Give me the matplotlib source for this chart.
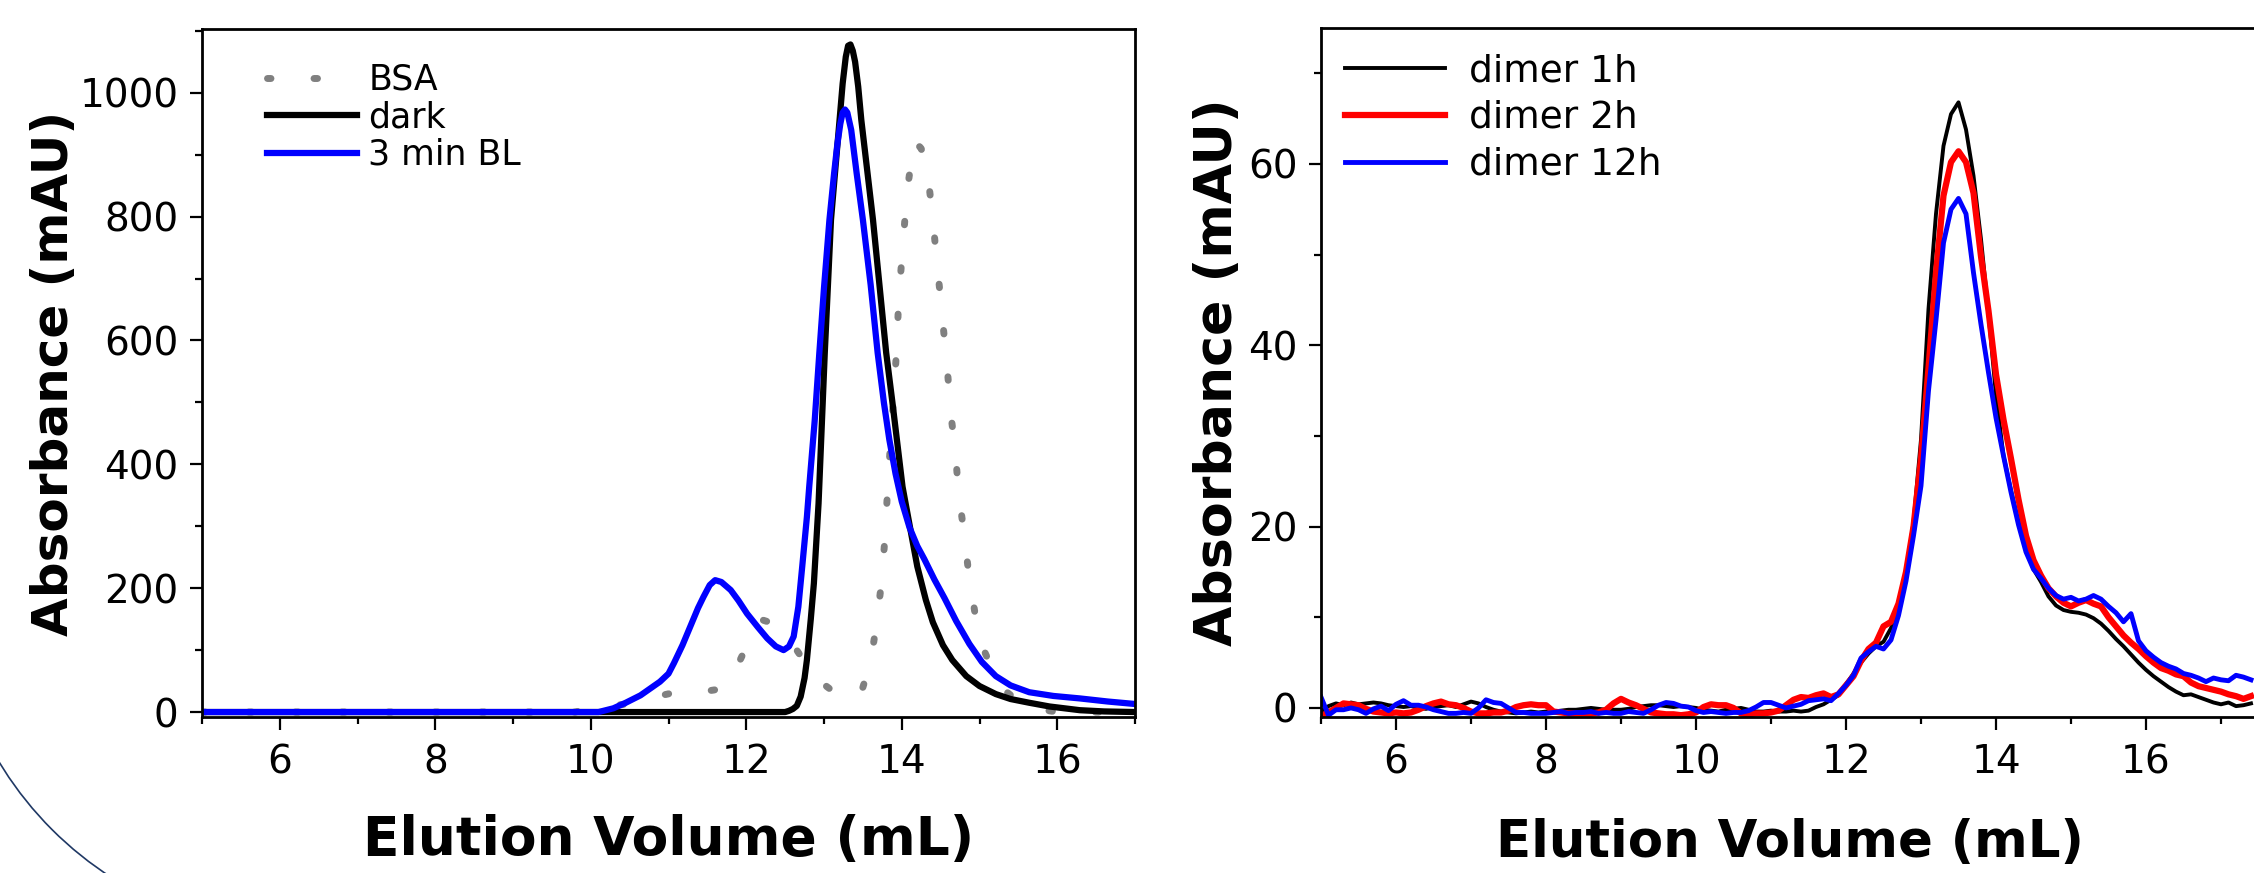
import numpy as np
import matplotlib
matplotlib.use("Agg")
import matplotlib.pyplot as plt
from matplotlib.patches import Arc
from matplotlib.ticker import MultipleLocator

plt.rcParams['font.family'] = ['DejaVu Sans']

### left panel: SEC of BSA standard, dark and 3 min blue light
vol_bsa = [5.0, 9.8, 10.12, 10.4, 10.68, 10.95, 11.24, 11.5, 11.71, 11.85, 11.97, 12.1, 12.2, 12.3,
           12.45, 12.59, 12.73, 12.87, 13.1, 13.38, 13.5, 13.6, 13.68, 13.74, 13.78, 13.81, 13.84,
           13.91, 13.94, 13.96, 14.0, 14.04, 14.09, 14.16, 14.25, 14.33, 14.39, 14.44, 14.49, 14.54,
           14.59, 14.63, 14.69, 14.73, 14.8, 14.86, 14.94, 15.06, 15.27, 15.6, 16.0, 17.0]
abs_bsa = [0, 0, 9, 12, 17, 28, 36, 34, 38, 65, 97, 130, 149, 145,
           128, 111, 85, 57, 35, 19, 40, 81, 146, 210, 275, 341, 405,
           535, 600, 666, 730, 795, 860, 923, 910, 873, 808, 743, 679, 614,
           548, 483, 420, 355, 290, 225, 161, 99, 40, 8, 0, 0]

vol_dark = [5.0, 12.5, 12.55, 12.6, 12.65, 12.7, 12.75, 12.78, 12.83, 12.87, 12.93, 13.01, 13.09,
            13.2, 13.24, 13.28, 13.31, 13.34, 13.37, 13.4, 13.44, 13.48, 13.63, 13.8, 13.88, 14.01,
            14.12, 14.2, 14.31, 14.4, 14.53, 14.65, 14.83, 15.0, 15.21, 15.4, 15.64, 15.9, 16.29,
            16.6, 17.0]
abs_dark = [0, 0, 2, 5, 10, 25, 55, 84, 150, 208, 337, 580, 795,
            956, 1015, 1058, 1076, 1078, 1068, 1050, 1010, 956, 795, 580, 500, 364,
            289, 235, 181, 145, 108, 84, 58, 42, 29, 21, 15, 9, 3,
            1, 0]

vol_bl = [5.0, 10.1, 10.29, 10.45, 10.64, 10.89, 11.0, 11.07, 11.18, 11.28, 11.38, 11.45, 11.53,
          11.6, 11.68, 11.8, 11.9, 12.01, 12.15, 12.27, 12.38, 12.48, 12.55, 12.61, 12.67, 12.72,
          12.78, 12.81, 12.88, 12.94, 13.0, 13.07, 13.13, 13.17, 13.21, 13.24, 13.27, 13.3, 13.35,
          13.42, 13.5, 13.6, 13.69, 13.77, 13.84, 13.92, 14.0, 14.1, 14.2, 14.29, 14.42, 14.55,
          14.7, 14.87, 15.03, 15.21, 15.4, 15.64, 15.95, 16.29, 16.65, 17.0]
abs_bl = [0, 0, 6, 15, 27, 49, 62, 79, 108, 138, 168, 186, 205,
          213, 210, 197, 180, 159, 137, 119, 106, 100, 106, 122, 170, 235,
          315, 364, 470, 580, 685, 795, 870, 915, 950, 968, 973, 968, 940,
          870, 795, 690, 580, 500, 440, 385, 340, 298, 268, 247, 214, 184,
          147, 110, 81, 58, 43, 32, 26, 22, 17, 13]

### right panel: dimer after 1h, 2h, 12h (5.0 to 17.4 mL, every 0.1 mL)
abs_1h = [-0.4, 0.2, 0.5, 0.3, 0.6, 0.4, 0.5, 0.6, 0.5, 0.3,
          0.2, 0.1, 0.2, 0.0, -0.1, 0.1, 0.2, 0.3, 0.1, 0.4,
          0.7, 0.5, 0.1, -0.2, -0.4, -0.5, -0.6, -0.5, -0.4, -0.5,
          -0.4, -0.4, -0.3, -0.2, -0.2, -0.1, 0.0, -0.1, -0.2, -0.2,
          -0.2, -0.1, 0.1, 0.2, 0.3, 0.3, 0.2, 0.1, 0.2, 0.1,
          0.0, -0.2, -0.3, -0.4, -0.2, -0.1, 0.0, -0.2, -0.4, -0.4,
          -0.3, -0.4, -0.4, -0.3, -0.4, -0.3,
          0.1, 0.4, 0.9, 1.4,
          2.6, 3.8, 5.0, 6.0, 6.8, 7.3, 8.8, 11.0, 14.8, 20.5,
          29.6, 44.0, 54.5, 62.0, 65.5, 66.8, 63.8, 58.7, 51.7, 43.5,
          34.5, 27.8, 24.0, 20.5, 17.5, 15.3, 13.9, 12.3, 11.3, 10.8,
          10.6, 10.5, 10.3, 9.9, 9.3, 8.5, 7.6, 6.8, 5.9, 5.0,
          4.2, 3.5, 2.9, 2.3, 1.8, 1.4, 1.5, 1.2, 0.9, 0.6,
          0.4, 0.6, 0.2, 0.3, 0.5]
abs_2h = [-0.9, -0.5, 0.0, 0.5, 0.4, 0.3, -0.1, -0.4, -0.5, -0.6,
          -0.5, -0.6, -0.5, -0.2, 0.2, 0.5, 0.7, 0.4, 0.3, 0.0,
          -0.4, -0.6, -0.6, -0.5, -0.5, -0.3, 0.1, 0.3, 0.4, 0.3,
          0.3, -0.4, -0.5, -0.6, -0.6, -0.6, -0.6, -0.5, -0.2, 0.5,
          1.0, 0.6, 0.3, -0.1, -0.5, -0.6, -0.7, -0.7, -0.8, -0.7,
          -0.5, 0.1, 0.4, 0.3, 0.3, 0.0, -0.6, -0.7, -0.6, -0.6,
          -0.5, -0.3, 0.3, 0.9, 1.2, 1.1,
          1.4, 1.6, 1.2, 1.5,
          2.5, 3.5, 5.2, 6.5, 7.2, 9.0, 9.5, 11.5, 15.0, 20.0,
          27.5, 37.5, 48.0, 56.5, 60.2, 61.4, 60.2, 56.8, 49.8, 43.8,
          36.8, 31.8, 27.5, 23.0, 19.0, 16.3, 14.6, 13.2, 12.3, 11.6,
          11.2, 11.6, 11.9, 11.5, 11.2, 10.0, 9.0, 8.0, 7.2, 6.5,
          5.7, 5.0, 4.4, 4.1, 3.7, 3.5, 2.8, 2.4, 2.2, 2.0,
          1.8, 1.5, 1.3, 1.0, 1.3]
abs_12h = [1.2, -0.8, -0.2, -0.2, 0.0, -0.2, -0.6, -0.1, 0.2, -0.3,
           0.4, 0.8, 0.3, 0.3, 0.1, -0.2, -0.4, -0.6, -0.6, -0.5,
           -0.6, 0.0, 0.9, 0.6, 0.5, 0.0, -0.5, -0.5, -0.6, -0.6,
           -0.6, -0.5, -0.4, -0.6, -0.5, -0.5, -0.4, -0.6, -0.5, -0.6,
           -0.6, -0.4, -0.5, -0.6, -0.2, 0.3, 0.6, 0.5, 0.2, 0.1,
           -0.3, -0.5, -0.4, -0.5, -0.6, -0.5, -0.5, -0.3, 0.1, 0.6,
           0.6, 0.3, 0.0, 0.2, 0.4, 0.8,
           0.9, 1.0, 0.8, 1.6,
           2.5, 3.6, 5.5, 6.2, 6.8, 6.5, 7.5, 10.2, 14.0, 19.0,
           24.5, 35.0, 42.8, 51.3, 55.0, 56.2, 54.5, 48.0, 42.3, 37.0,
           32.0, 27.8, 23.8, 20.2, 17.2, 15.3, 14.3, 13.2, 12.4, 12.0,
           12.2, 11.8, 12.0, 12.4, 12.0, 11.2, 10.5, 9.5, 10.4, 7.4,
           6.3, 5.6, 5.0, 4.6, 4.3, 3.8, 3.6, 3.3, 2.9, 3.3,
           3.1, 3.0, 3.6, 3.4, 3.1]
vol_dimer = np.round(5.0 + 0.1 * np.arange(len(abs_1h)), 1)


W, H = 2254, 873
fig = plt.figure(figsize=(W / 100, H / 100), dpi=100)

ax1 = fig.add_axes([202 / W, 156 / H, 933 / W, 688 / H])
ax2 = fig.add_axes([1321 / W, 156 / H, 937.5 / W, 689 / H])

ax1.plot(vol_bsa, abs_bsa, color='#808080', lw=5, dashes=(0.5, 6.2),
         dash_capstyle='round', label='BSA')
ax1.plot(vol_dark, abs_dark, color='black', lw=4.5, label='dark')
ax1.plot(vol_bl, abs_bl, color='#0000ff', lw=4.5, label='3 min BL')

ax2.plot(vol_dimer, abs_1h, color='black', lw=2.8, label='dimer 1h')
ax2.plot(vol_dimer, abs_2h, color='#ff0000', lw=4.5, label='dimer 2h')
ax2.plot(vol_dimer, abs_12h, color='#0000ff', lw=3.5, label='dimer 12h')

ax1.set_xlim(5, 17)
ax1.set_ylim(-8, 1103)
ax1.yaxis.set_major_locator(MultipleLocator(200))
ax1.yaxis.set_minor_locator(MultipleLocator(100))

ax2.set_xlim(5, 17.5)
ax2.set_ylim(-1, 75)
ax2.yaxis.set_major_locator(MultipleLocator(20))
ax2.yaxis.set_minor_locator(MultipleLocator(10))

for ax in (ax1, ax2):
    ax.xaxis.set_major_locator(MultipleLocator(2))
    ax.xaxis.set_minor_locator(MultipleLocator(1))
    ax.tick_params(which='major', direction='out', length=9, width=1.6,
                   labelsize=28, pad=8)
    ax.tick_params(which='minor', direction='out', length=5, width=1.6)
    ax.tick_params(axis='x', which='major', pad=10)
    for sp in ax.spines.values():
        sp.set_linewidth(2)

ax1.set_xlabel('Elution Volume (mL)', fontsize=38.5, fontweight='bold', va='baseline')
ax1.xaxis.set_label_coords(0.5, (717 - 855) / 688)
ax1.set_ylabel('Absorbance (mAU)', fontsize=36, fontweight='bold', va='center')
ax1.yaxis.set_label_coords((54 - 202) / 933, 0.5)

ax2.set_xlabel('Elution Volume (mL)', fontsize=37, fontweight='bold', va='baseline')
ax2.xaxis.set_label_coords(0.5, (717 - 857) / 689)
ax2.set_ylabel('Absorbance (mAU)', fontsize=37.5, fontweight='bold', va='center')
ax2.yaxis.set_label_coords((1218 - 1321) / 937.5, 0.5)

ax1.legend(loc='upper left', bbox_to_anchor=(0.0697, 0.9506), frameon=False,
           fontsize=25, handlelength=2.6, handletextpad=0.32, labelspacing=0.1,
           borderaxespad=0, borderpad=0)
ax2.legend(loc='upper left', bbox_to_anchor=(0.0256, 0.9637), frameon=False,
           fontsize=27, handlelength=2.67, handletextpad=0.64, labelspacing=0.29,
           borderaxespad=0, borderpad=0)

# piece of a navy circle peeking out at the bottom left corner
deco = fig.add_axes([0, 0, 1, 1], zorder=-1)
deco.set_xlim(0, W)
deco.set_ylim(0, H)
deco.axis('off')
deco.add_patch(Arc((303, 294.5), 710, 710, theta1=200, theta2=250,
                   color='#1f3864', lw=1.2))

fig.savefig('out.png', dpi=100)
